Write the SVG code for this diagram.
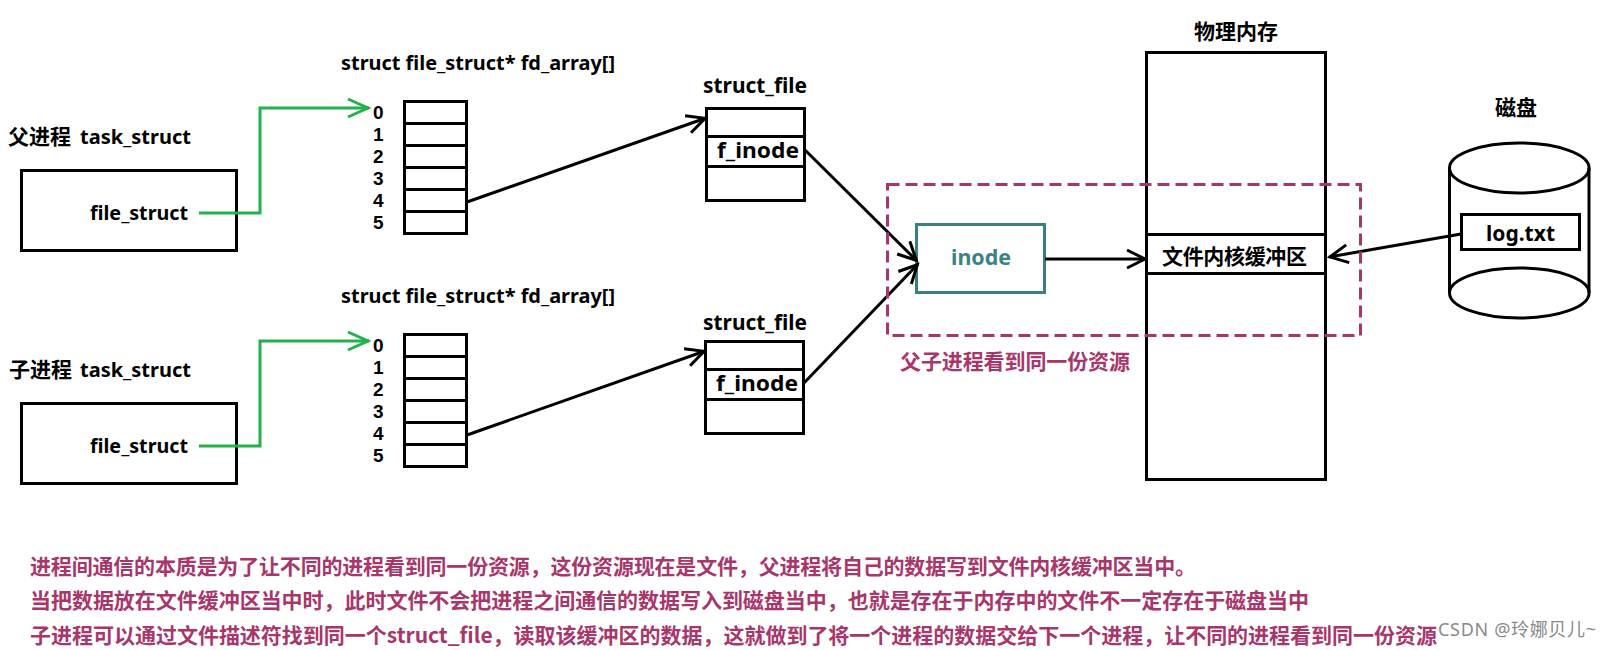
<svg xmlns="http://www.w3.org/2000/svg" width="1612" height="650" viewBox="0 0 1612 650">
<style>
text{font-family:"Noto Sans","Noto Sans CJK SC",sans-serif;font-weight:700;font-size:20px;fill:#000}
.cjk{font-family:"Noto Sans CJK SC","Noto Sans",sans-serif;font-size:21px}
.lat{font-family:"Noto Sans",sans-serif;font-size:20px}
.num{font-family:"Liberation Sans",sans-serif;font-size:19px}
.box{fill:none;stroke:#000;stroke-width:3}
.plum{fill:#a9366b}
.wm{fill:#8a8a8a;font-weight:400;font-size:18px}
.k{fill:none;stroke:#000;stroke-width:3}
.g{fill:none;stroke:#22b14c;stroke-width:3}
</style>
<defs>
<marker id="ak" markerUnits="userSpaceOnUse" markerWidth="30" markerHeight="30" refX="24" refY="12" orient="auto"><path d="M5 3L23 12L5 21" fill="none" stroke="#000" stroke-width="3"/></marker>
<marker id="ag" markerUnits="userSpaceOnUse" markerWidth="30" markerHeight="30" refX="24" refY="12" orient="auto"><path d="M3 3L23 12L3 21" fill="none" stroke="#22b14c" stroke-width="3"/></marker>
</defs>
<rect width="1612" height="650" fill="#fff"/>
<g id="parent">
<text x="8" y="144" class="cjk">父进程<tspan class="lat" x="80">task_struct</tspan></text>
<rect class="box" x="21.500" y="170.500" width="215" height="80"/>
<text x="90" y="220" textLength="98" lengthAdjust="spacingAndGlyphs">file_struct</text>
</g>
<g id="child">
<text x="9" y="377" class="cjk">子进程<tspan class="lat" x="80">task_struct</tspan></text>
<rect class="box" x="21.500" y="403.500" width="215" height="80"/>
<text x="90" y="453" textLength="98" lengthAdjust="spacingAndGlyphs">file_struct</text>
</g>
<g id="fd-array-1">
<text x="341" y="70" textLength="274" lengthAdjust="spacingAndGlyphs">struct file_struct* fd_array[]</text>
<text class="num"><tspan x="373" y="119">0</tspan><tspan x="373" y="141">1</tspan><tspan x="373" y="163">2</tspan><tspan x="373" y="185">3</tspan><tspan x="373" y="207">4</tspan><tspan x="373" y="229">5</tspan></text>
<path class="box" d="M404.500 101.500H466.500V233.500H404.500ZM404.500 123.500H466.500M404.500 145.500H466.500M404.500 167.500H466.500M404.500 189.500H466.500M404.500 211.500H466.500"/>
</g>
<g id="fd-array-2">
<text x="341" y="303" textLength="274" lengthAdjust="spacingAndGlyphs">struct file_struct* fd_array[]</text>
<text class="num"><tspan x="373" y="352">0</tspan><tspan x="373" y="374">1</tspan><tspan x="373" y="396">2</tspan><tspan x="373" y="418">3</tspan><tspan x="373" y="440">4</tspan><tspan x="373" y="462">5</tspan></text>
<path class="box" d="M404.500 334.500H466.500V466.500H404.500ZM404.500 356.500H466.500M404.500 378.500H466.500M404.500 400.500H466.500M404.500 422.500H466.500M404.500 444.500H466.500"/>
</g>
<g id="struct-file-1">
<text x="703" y="93" textLength="104" lengthAdjust="spacingAndGlyphs" style="font-size:21px">struct_file</text>
<path class="box" d="M706.500 108.500H804.500V200.500H706.500ZM706.500 136.500H804.500M706.500 166.500H804.500"/>
<text x="717" y="158" textLength="82" lengthAdjust="spacingAndGlyphs" style="font-size:21px">f_inode</text>
</g>
<g id="struct-file-2">
<text x="703" y="330" textLength="104" lengthAdjust="spacingAndGlyphs" style="font-size:21px">struct_file</text>
<path class="box" d="M705.500 341.500H803.500V433.500H705.500ZM705.500 369.500H803.500M705.500 399.500H803.500"/>
<text x="716" y="391" textLength="82" lengthAdjust="spacingAndGlyphs" style="font-size:21px">f_inode</text>
</g>
<g id="inode">
<rect x="916.500" y="224.500" width="128" height="68" fill="none" stroke="#3b7f80" stroke-width="3"/>
<text x="951" y="265" style="fill:#3b8286;font-size:21px" textLength="60" lengthAdjust="spacingAndGlyphs">inode</text>
</g>
<g id="memory">
<text x="1194" y="39" class="cjk" textLength="84" lengthAdjust="spacing">物理内存</text>
<path class="box" d="M1146.500 52.500H1325.500V479.500H1146.500ZM1146.500 234.500H1325.500M1146.500 273.500H1325.500"/>
<text x="1162" y="264" class="cjk" textLength="145" lengthAdjust="spacing">文件内核缓冲区</text>
</g>
<g id="disk">
<text x="1495" y="115" class="cjk" textLength="42" lengthAdjust="spacing">磁盘</text>
<path class="box" d="M1449.500 168V293M1589 168V293"/>
<ellipse class="box" cx="1519.300" cy="168" rx="69.800" ry="25"/>
<ellipse class="box" cx="1519.300" cy="293" rx="69.800" ry="25"/>
<rect x="1461.500" y="214.500" width="118" height="35" fill="#fff" stroke="#000" stroke-width="3"/>
<text x="1486" y="241" textLength="69" lengthAdjust="spacingAndGlyphs" style="font-size:21px">log.txt</text>
</g>
<g id="connectors">
<path class="g" marker-end="url(#ag)" d="M199 213H260V108H369"/>
<path class="g" marker-end="url(#ag)" d="M199 446H260V341H369"/>
<path class="k" marker-end="url(#ak)" d="M467 202L706 118"/>
<path class="k" marker-end="url(#ak)" d="M467 435L705 351"/>
<path class="k" marker-end="url(#ak)" d="M805 150L917 261"/>
<path class="k" marker-end="url(#ak)" d="M804 383L918 264"/>
<path class="k" marker-end="url(#ak)" d="M1045 259H1146"/>
<path class="k" marker-end="url(#ak)" d="M1461 234L1329 257"/>
</g>
<g id="shared-resource">
<rect x="887.500" y="184.500" width="473" height="151" fill="none" stroke="#a9366b" stroke-width="3" stroke-dasharray="12 6"/>
<text x="900" y="369" class="plum cjk" textLength="230" lengthAdjust="spacing">父子进程看到同一份资源</text>
</g>
<g id="notes">
<text x="30" y="574" class="plum cjk" textLength="1166" lengthAdjust="spacing">进程间通信的本质是为了让不同的进程看到同一份资源，这份资源现在是文件，父进程将自己的数据写到文件内核缓冲区当中。</text>
<text x="30" y="608" class="plum cjk" textLength="1279" lengthAdjust="spacing">当把数据放在文件缓冲区当中时，此时文件不会把进程之间通信的数据写入到磁盘当中，也就是存在于内存中的文件不一定存在于磁盘当中</text>
<text x="30" y="643" class="plum cjk" textLength="1407" lengthAdjust="spacing">子进程可以通过文件描述符找到同一个struct_file，读取该缓冲区的数据，这就做到了将一个进程的数据交给下一个进程，让不同的进程看到同一份资源</text>
<text x="1438" y="636" class="wm" textLength="158" lengthAdjust="spacing">CSDN @玲娜贝儿~</text>
</g>
</svg>
